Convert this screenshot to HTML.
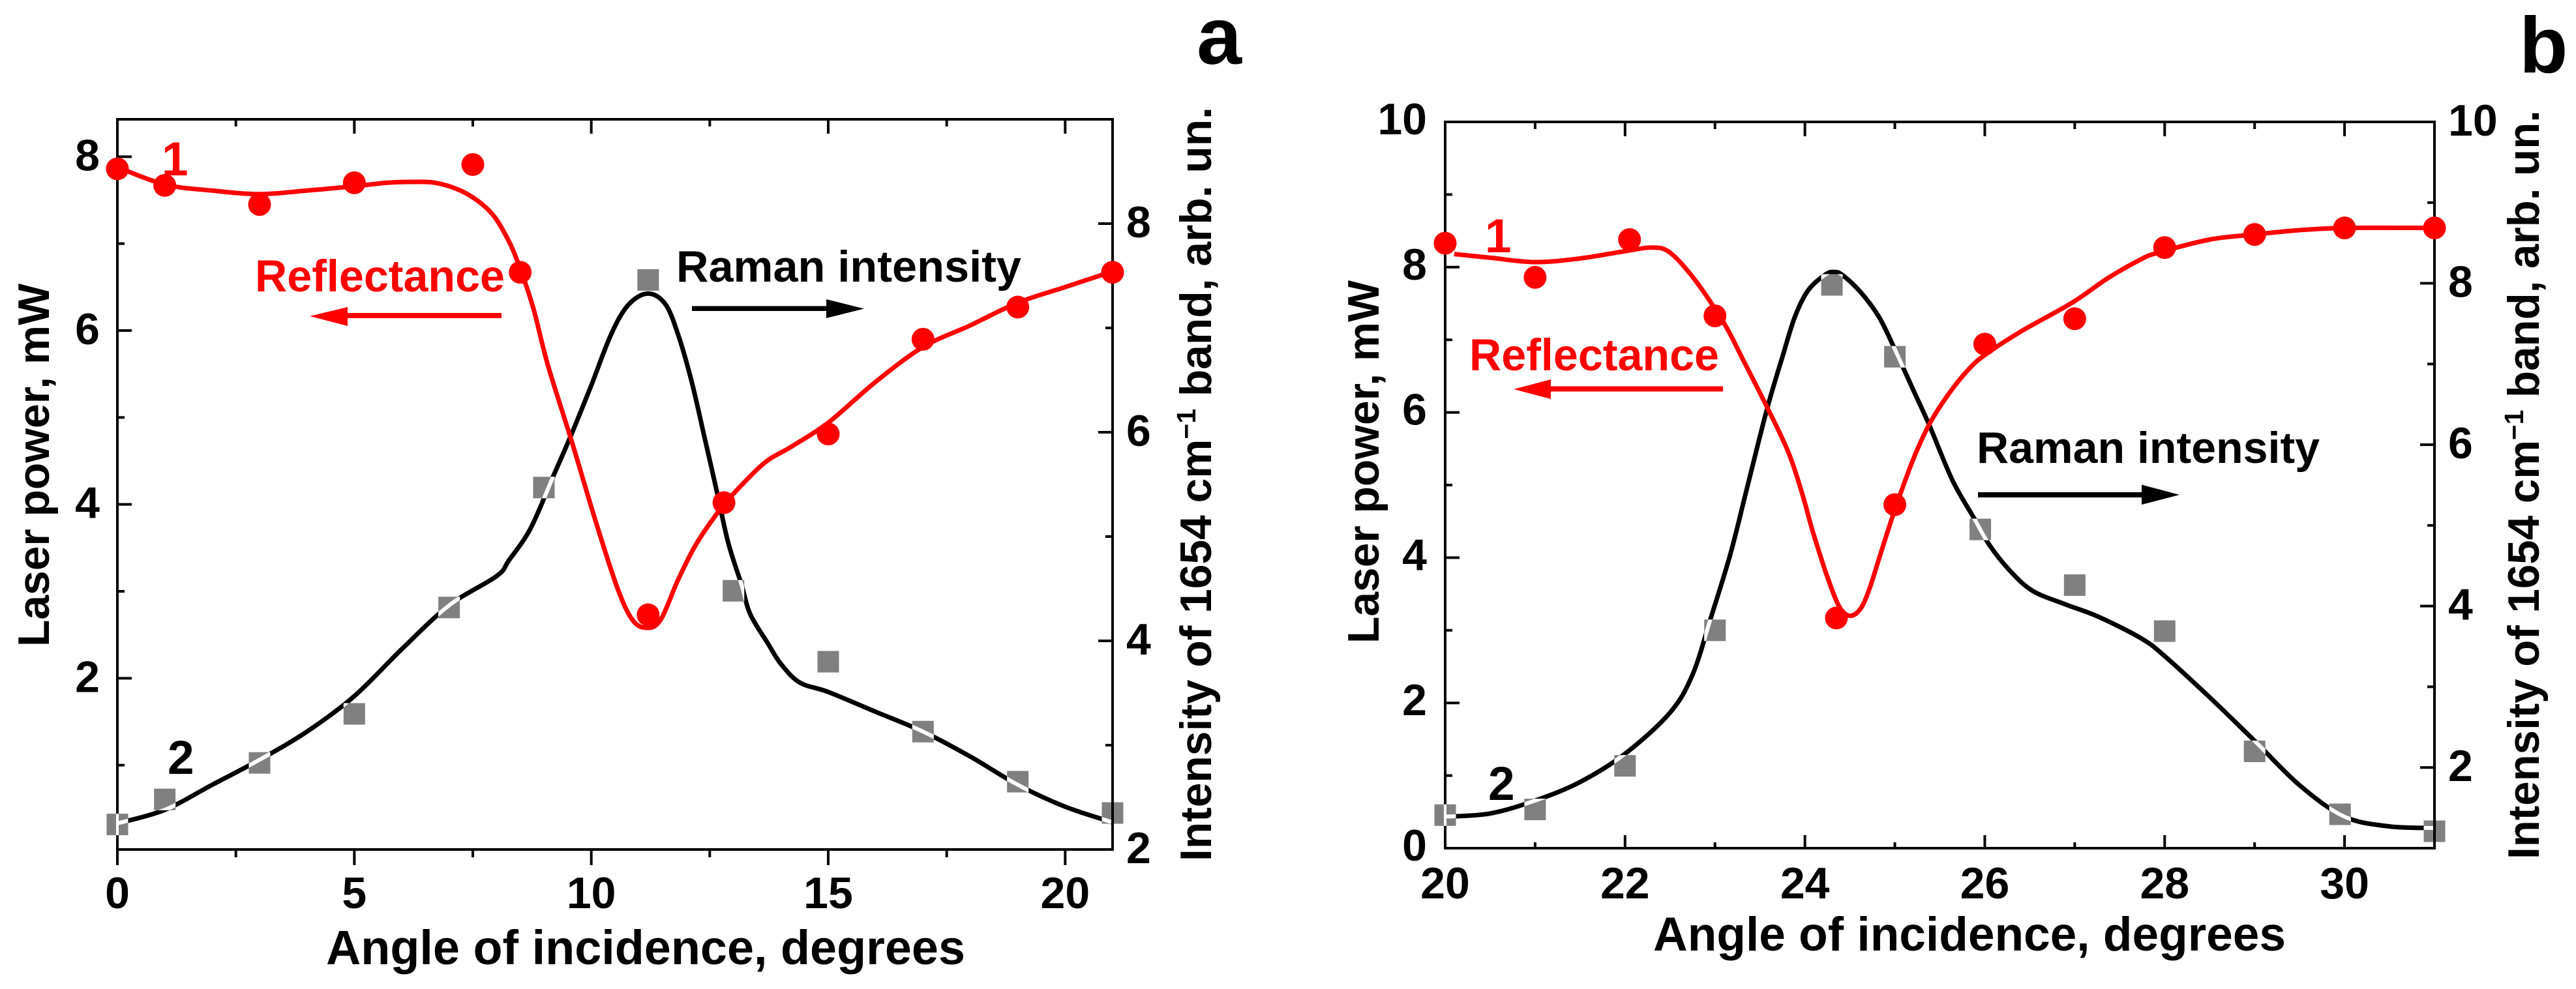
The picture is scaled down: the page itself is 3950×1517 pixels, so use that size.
<!DOCTYPE html>
<html>
<head>
<meta charset="utf-8">
<title>Reflectance and Raman intensity vs angle of incidence</title>
<style>
html,body{margin:0;padding:0;background:#fff;width:3950px;height:1517px;overflow:hidden}
svg{display:block}
text{font-family:"Liberation Sans",Arial,sans-serif;font-weight:bold}
</style>
</head>
<body>
<svg id="fig" xmlns="http://www.w3.org/2000/svg" width="3950" height="1517" viewBox="0 0 3950 1517">
  <rect width="3950" height="1517" fill="#fff"/>
  <g id="panelA"></g>
  <g id="panelB"></g>

  <g>
    <text x="1835" y="98" font-size="124">a</text>
    <text x="500" y="1479" font-size="74" textLength="980" lengthAdjust="spacingAndGlyphs">Angle of incidence, degrees</text>
    <text transform="translate(75,992) rotate(-90)" font-size="68" textLength="557" lengthAdjust="spacingAndGlyphs">Laser power, mW</text>
    <text transform="translate(1857,1321) rotate(-90)" font-size="68" textLength="1157" lengthAdjust="spacingAndGlyphs">Intensity of 1654 cm<tspan dy="-24" font-size="41">&#8722;1</tspan><tspan dy="24"> band, arb. un.</tspan></text>
    <text x="248" y="269" font-size="73" fill="#f00">1</text>
    <text x="257" y="1187" font-size="73">2</text>
    <text x="391" y="447" font-size="69" fill="#f00" textLength="383" lengthAdjust="spacingAndGlyphs">Reflectance</text>
    <text x="1037" y="432" font-size="68" textLength="529" lengthAdjust="spacingAndGlyphs">Raman intensity</text>
    <path d="M769 480L533 480L533 471L475 485L533 500L533 488L769 488Z" fill="#f00"/>
    <path d="M1061 469.500L1267 469.500L1267 459L1325 473.500L1267 488L1267 477L1061 477Z" fill="#000"/>
  </g>

  <g>
    <text x="3863" y="111" font-size="122">b</text>
    <text x="2535" y="1458" font-size="73" textLength="970" lengthAdjust="spacingAndGlyphs">Angle of incidence, degrees</text>
    <text transform="translate(2114,987) rotate(-90)" font-size="68" textLength="557" lengthAdjust="spacingAndGlyphs">Laser power, mW</text>
    <text transform="translate(3893,1318) rotate(-90)" font-size="68" textLength="1149" lengthAdjust="spacingAndGlyphs">Intensity of 1654 cm<tspan dy="-24" font-size="41">&#8722;1</tspan><tspan dy="24"> band, arb. un.</tspan></text>
    <text x="2277" y="387" font-size="73" fill="#f00">1</text>
    <text x="2282" y="1227" font-size="73">2</text>
    <text x="2253" y="568" font-size="69" fill="#f00" textLength="383" lengthAdjust="spacingAndGlyphs">Reflectance</text>
    <text x="3031" y="710" font-size="68" textLength="526" lengthAdjust="spacingAndGlyphs">Raman intensity</text>
    <path d="M2642 592.500L2378 592.500L2378 582L2321 597L2378 612L2378 600.500L2642 600.500Z" fill="#f00"/>
    <path d="M3033 755L3284 755L3284 743.500L3342 759L3284 774L3284 763L3033 763Z" fill="#000"/>
  </g>
</svg>

<script>
/* ---------- Panel A data ---------- */
const aXTicks = [0, 5, 10, 15, 20];
const aXMinorTicks = [2.5, 7.5, 12.5, 17.5];
const aLeftTicks = [2, 4, 6, 8];
const aLeftMinorTicks = [1, 3, 5, 7];
const aRightTicks = [2, 4, 6, 8];
const aRightMinorTicks = [3, 5, 7];

const aReflectX = [0, 1, 3, 5, 7.5, 8.5, 11.2, 12.8, 15, 17, 19, 21];
const aReflectY = [7.86, 7.67, 7.45, 7.70, 7.91, 6.67, 2.73, 4.02, 4.81, 5.90, 6.27, 6.67];
const aRamanX = [0, 1, 3, 5, 7, 9, 11.2, 13, 15, 17, 19, 21];
const aRamanY = [2.24, 2.48, 2.83, 3.30, 4.32, 5.47, 7.46, 4.48, 3.80, 3.13, 2.65, 2.35];

const aReflectFitX = [0, 1, 2, 3, 4, 5, 5.69, 6.19, 6.7, 7.2, 7.61, 7.94, 8.22, 8.44, 8.77, 9.08, 9.59, 10.09, 10.55, 10.87, 11.17, 11.46, 11.83, 12.2, 12.66, 13.03, 13.66, 14.21, 15, 16, 17, 18, 19, 20, 21];
const aReflectFitY = [7.88, 7.68, 7.61, 7.57, 7.61, 7.66, 7.70, 7.71, 7.70, 7.62, 7.49, 7.32, 7.07, 6.80, 6.27, 5.61, 4.72, 3.81, 3.04, 2.67, 2.58, 2.67, 3.13, 3.53, 3.90, 4.14, 4.48, 4.66, 4.94, 5.41, 5.81, 6.06, 6.32, 6.50, 6.68];
const aRamanFitX = [0, 1, 2, 3, 4, 5, 6, 7, 8, 8.26, 8.72, 9.2, 9.59, 10, 10.42, 10.78, 11.19, 11.56, 11.83, 12.11, 12.38, 12.66, 12.89, 13.17, 13.35, 13.72, 14, 14.4, 15, 16, 17, 18, 19, 20, 21];
const aRamanFitY = [2.25, 2.38, 2.62, 2.86, 3.13, 3.47, 3.92, 4.34, 4.62, 4.77, 5.08, 5.58, 5.99, 6.45, 6.94, 7.22, 7.33, 7.23, 6.94, 6.50, 5.97, 5.41, 4.94, 4.54, 4.26, 3.98, 3.78, 3.60, 3.51, 3.32, 3.13, 2.89, 2.62, 2.41, 2.26];

/* ---------- Panel B data ---------- */
const bXTicks = [20, 22, 24, 26, 28, 30];
const bXMinorTicks = [21, 23, 25, 27, 29];
const bLeftTicks = [0, 2, 4, 6, 8, 10];
const bLeftMinorTicks = [1, 3, 5, 7, 9];
const bRightTicks = [2, 4, 6, 8, 10];
const bRightMinorTicks = [3, 5, 7, 9];

const bReflectX = [20, 21, 22.05, 23, 24.35, 25, 26, 27, 28, 29, 30, 31];
const bReflectY = [8.33, 7.86, 8.38, 7.33, 3.17, 4.73, 6.94, 7.29, 8.27, 8.45, 8.54, 8.54];
const bRamanX = [20, 21, 22, 23, 24.3, 25, 25.95, 27, 28, 29, 29.95, 31];
const bRamanY = [1.41, 1.48, 2.02, 3.70, 7.98, 7.09, 4.95, 4.26, 3.69, 2.20, 1.42, 1.21];

const bReflectFitX = [20.1, 20.5, 21, 21.5, 22, 22.3, 22.5, 22.78, 23.1, 23.31, 23.6, 23.82, 23.97, 24.09, 24.24, 24.38, 24.5, 24.62, 24.72, 24.84, 25, 25.2, 25.38, 25.59, 25.81, 26, 26.41, 26.97, 27.37, 27.74, 27.93, 28.5, 29, 29.5, 30, 31];
const bReflectFitY = [8.18, 8.13, 8.07, 8.12, 8.22, 8.27, 8.20, 7.82, 7.23, 6.73, 6.02, 5.44, 4.88, 4.35, 3.77, 3.33, 3.20, 3.30, 3.58, 4.05, 4.66, 5.34, 5.83, 6.24, 6.58, 6.79, 7.12, 7.51, 7.85, 8.11, 8.20, 8.38, 8.45, 8.51, 8.54, 8.54];
const bRamanFitX = [20, 20.5, 21, 21.5, 22, 22.5, 22.75, 22.95, 23.17, 23.34, 23.49, 23.6, 23.75, 23.89, 24.04, 24.23, 24.33, 24.42, 24.62, 24.82, 24.98, 25.2, 25.38, 25.64, 25.88, 26.05, 26.27, 26.53, 26.9, 27.26, 27.74, 28, 28.5, 29, 29.5, 30, 30.5, 31];
const bRamanFitY = [1.39, 1.43, 1.59, 1.82, 2.17, 2.68, 3.15, 3.84, 4.64, 5.39, 6.06, 6.53, 7.09, 7.59, 7.92, 8.11, 8.14, 8.10, 7.89, 7.59, 7.23, 6.69, 6.25, 5.56, 5.09, 4.76, 4.45, 4.19, 4.02, 3.87, 3.60, 3.38, 2.87, 2.33, 1.78, 1.39, 1.27, 1.25];

const SVGNS = 'http://www.w3.org/2000/svg';

function el(parent, tag, attrs) {
  const e = document.createElementNS(SVGNS, tag);
  for (const k in attrs) e.setAttribute(k, attrs[k]);
  parent.appendChild(e);
  return e;
}

function smoothPath(xs, ys, sx, sy) {
  const p = xs.map((x, i) => [sx(x), sy(ys[i])]);
  let d = 'M' + p[0][0].toFixed(1) + ' ' + p[0][1].toFixed(1);
  for (let i = 0; i < p.length - 1; i++) {
    const p0 = p[Math.max(i - 1, 0)];
    const p1 = p[i];
    const p2 = p[i + 1];
    const p3 = p[Math.min(i + 2, p.length - 1)];
    const c1x = p1[0] + (p2[0] - p0[0]) / 6;
    const c1y = p1[1] + (p2[1] - p0[1]) / 6;
    const c2x = p2[0] - (p3[0] - p1[0]) / 6;
    const c2y = p2[1] - (p3[1] - p1[1]) / 6;
    d += 'C' + c1x.toFixed(1) + ' ' + c1y.toFixed(1) + ' ' + c2x.toFixed(1) + ' ' + c2y.toFixed(1) + ' ' + p2[0].toFixed(1) + ' ' + p2[1].toFixed(1);
  }
  return d;
}

function drawPanel(cfg) {
  const g = document.getElementById(cfg.id);
  const sx = v => cfg.left + (v - cfg.xMin) / (cfg.xMax - cfg.xMin) * (cfg.right - cfg.left);
  const syL = v => cfg.bottom - (v - cfg.yLMin) / (cfg.yLMax - cfg.yLMin) * (cfg.bottom - cfg.top);
  const syR = v => cfg.bottom - (v - cfg.yRMin) / (cfg.yRMax - cfg.yRMin) * (cfg.bottom - cfg.top);
  const AW = 4;

  /* frame */
  const frame = el(g, 'rect', {x: cfg.left, y: cfg.top, width: cfg.right - cfg.left, height: cfg.bottom - cfg.top, fill: 'none', stroke: '#000', 'stroke-width': AW});
  
  

  /* x ticks */
  const tickLine = (x1, y1, x2, y2, w) => {
    const t = el(g, 'line', {x1: x1, y1: y1, x2: x2, y2: y2, stroke: '#000', 'stroke-width': w});
    
    
  };
  const bottomDir = cfg.xTicksOut ? 1 : -1;
  cfg.xTicks.forEach(v => {
    tickLine(sx(v), cfg.bottom, sx(v), cfg.bottom + bottomDir * cfg.majorX, AW);
    tickLine(sx(v), cfg.top, sx(v), cfg.top + 22, AW);
    const t = el(g, 'text', {x: sx(v), y: cfg.xLabelY, 'font-size': 68, 'text-anchor': 'middle'});
    
    
    t.textContent = v;
  });
  cfg.xMinor.forEach(v => {
    tickLine(sx(v), cfg.bottom, sx(v), cfg.bottom + bottomDir * cfg.minorX, AW);
    tickLine(sx(v), cfg.top, sx(v), cfg.top + 11, AW);
  });

  /* left axis */
  cfg.leftTicks.forEach(v => {
    tickLine(cfg.left, syL(v), cfg.left + 22, syL(v), AW);
    const t = el(g, 'text', {x: cfg.leftLabelX, y: syL(v) + cfg.leftLabelDy, 'font-size': 68, 'text-anchor': 'end'});
    
    
    t.textContent = v;
  });
  cfg.leftMinor.forEach(v => tickLine(cfg.left, syL(v), cfg.left + 11, syL(v), AW));

  /* right axis */
  cfg.rightTicks.forEach(v => {
    tickLine(cfg.right, syR(v), cfg.right - 22, syR(v), AW);
    const t = el(g, 'text', {x: cfg.rightLabelX, y: syR(v) + cfg.rightLabelDy, 'font-size': 68});
    
    
    t.textContent = v;
  });
  cfg.rightMinor.forEach(v => tickLine(cfg.right, syR(v), cfg.right - 11, syR(v), AW));

  /* black fit curve */
  const ramanD = smoothPath(cfg.ramanFitX, cfg.ramanFitY, sx, syR);
  const ramanFit = el(g, 'path', {d: ramanD, fill: 'none', stroke: '#000', 'stroke-width': 7, 'stroke-linejoin': 'round'});
  
  

  /* gray squares + clip for white knock-out */
  const clip = el(g, 'clipPath', {id: cfg.id + 'Clip'});
  cfg.ramanX.forEach((x, i) => {
    const r = el(g, 'rect', {x: sx(x) - 16.5, y: syR(cfg.ramanY[i]) - 16.5, width: 33, height: 33, fill: '#808080'});
    
    
    el(clip, 'rect', {x: sx(x) - 16.5, y: syR(cfg.ramanY[i]) - 16.5, width: 33, height: 33});
  });
  const knock = el(g, 'g', {'clip-path': 'url(#' + cfg.id + 'Clip)'});
  
  
  el(knock, 'path', {d: ramanD, fill: 'none', stroke: '#fff', 'stroke-width': 6});
  el(knock, 'line', {x1: cfg.left, y1: cfg.top, x2: cfg.left, y2: cfg.bottom, stroke: '#fff', 'stroke-width': AW});

  /* right axis over squares */
  const rightLine = el(g, 'line', {x1: cfg.right, y1: cfg.top, x2: cfg.right, y2: cfg.bottom, stroke: '#000', 'stroke-width': AW});
  
  

  /* red fit curve */
  const reflectFit = el(g, 'path', {d: smoothPath(cfg.reflectFitX, cfg.reflectFitY, sx, syL), fill: 'none', stroke: '#f00', 'stroke-width': 7, 'stroke-linejoin': 'round'});
  
  

  /* red circles */
  cfg.reflectX.forEach((x, i) => {
    const c = el(g, 'ellipse', {cx: sx(x), cy: syL(cfg.reflectY[i]), rx: 17.5, ry: 17.5, fill: '#f00'});
    
    
  });
}

drawPanel({
  id: 'panelA', prefix: 'panel-a',
  left: 180, right: 1706, top: 183, bottom: 1303,
  xMin: 0, xMax: 21, yLMin: 0.03, yLMax: 8.43, yRMin: 2, yRMax: 9,
  xTicks: aXTicks, xMinor: aXMinorTicks, xTicksOut: true, majorX: 24, minorX: 12,
  leftTicks: aLeftTicks, leftMinor: aLeftMinorTicks,
  rightTicks: aRightTicks, rightMinor: aRightMinorTicks,
  xLabelY: 1393, leftLabelX: 153, leftLabelDy: 21, rightLabelX: 1727, rightLabelDy: 21,
  reflectX: aReflectX, reflectY: aReflectY, ramanX: aRamanX, ramanY: aRamanY,
  reflectFitX: aReflectFitX, reflectFitY: aReflectFitY, ramanFitX: aRamanFitX, ramanFitY: aRamanFitY
});

drawPanel({
  id: 'panelB', prefix: 'panel-b',
  left: 2216, right: 3733, top: 187, bottom: 1301,
  xMin: 20, xMax: 31, yLMin: 0, yLMax: 10, yRMin: 1, yRMax: 10,
  xTicks: bXTicks, xMinor: bXMinorTicks, xTicksOut: false, majorX: 20, minorX: 9,
  leftTicks: bLeftTicks, leftMinor: bLeftMinorTicks,
  rightTicks: bRightTicks, rightMinor: bRightMinorTicks,
  xLabelY: 1378, leftLabelX: 2188, leftLabelDy: 19, rightLabelX: 3754, rightLabelDy: 21,
  reflectX: bReflectX, reflectY: bReflectY, ramanX: bRamanX, ramanY: bRamanY,
  reflectFitX: bReflectFitX, reflectFitY: bReflectFitY, ramanFitX: bRamanFitX, ramanFitY: bRamanFitY
});
</script>
</body>
</html>
